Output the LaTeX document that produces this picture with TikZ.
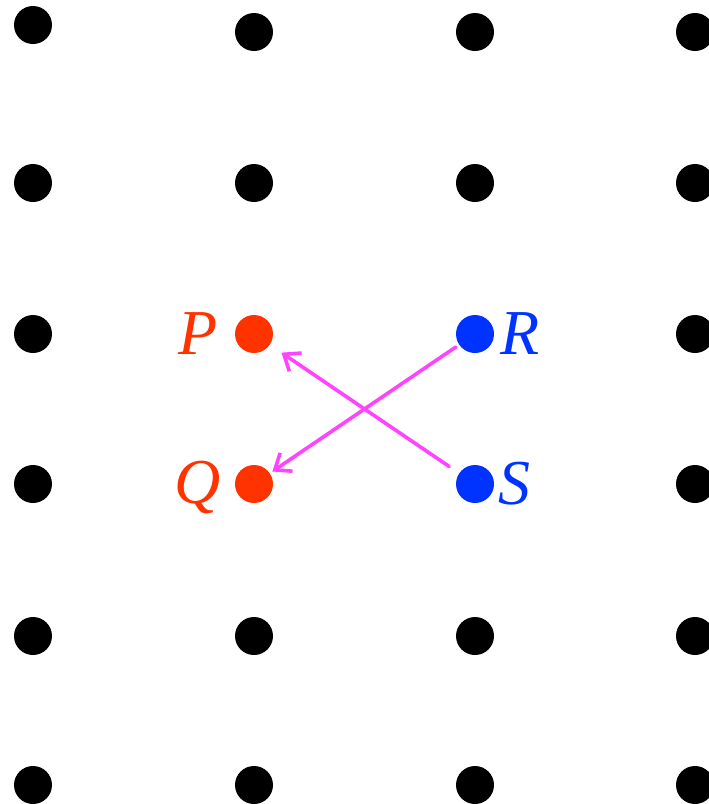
\documentclass[tikz,border=0pt]{standalone}
\usepackage{fontspec}
\setmainfont{Liberation Serif}
\usepackage{xcolor}
\usepackage{tikz}
\usetikzlibrary{arrows.meta,positioning}
\definecolor{ptred}{HTML}{FF3300}
\definecolor{ptblue}{HTML}{0033FF}
\definecolor{swapmagenta}{HTML}{FF44FF}
\tikzset{
every picture/.style={line cap=round,line join=round},
grid dot/.style={circle, fill=black, inner sep=0pt, minimum size=38pt},
red dot/.style={grid dot, fill=ptred},
blue dot/.style={grid dot, fill=ptblue},
pt label/.style={inner sep=0pt, font=\fontsize{64}{68}\selectfont\itshape},
swap arrow/.style={
  draw=swapmagenta,
  line width=3.6pt,
  -{Straight Barb[length=14pt,width=22pt]}
}
}

\begin{document}
\begin{tikzpicture}[x=1pt,y=-1pt]
\useasboundingbox (0,0) rectangle (709,804);
% lattice
\foreach \yy in {25,183,334,484,636,785}
  \node[grid dot] at (33,\yy) {};
\foreach \yy in {32,183,334,484,636,785}
  \node[grid dot] at (695,\yy) {};
\foreach \xx in {254,475}
  \foreach \yy in {32,183,636,785}
    \node[grid dot] at (\xx,\yy) {};
% the four points
\node[red dot] (P) at (254,334) {};
\node[red dot] (Q) at (254,484) {};
\node[blue dot] (R) at (475,334) {};
\node[blue dot] (S) at (475,484) {};
\node[pt label, text=ptred, left=17pt of P] (Plab) {P};
\node[pt label, text=ptred, left=14pt of Q, yshift=-3pt] (Qlab) {Q};
\node[pt label, text=ptblue, right=6pt of R] (Rlab) {R};
\node[pt label, text=ptblue, right=4pt of S] (Slab) {S};
% swaps
\draw[swap arrow, shorten <=12pt, shorten >=14pt] (S) -- (P);
\draw[swap arrow, shorten <=4pt, shorten >=3pt] (R) -- (Q);
\end{tikzpicture}
\end{document}
